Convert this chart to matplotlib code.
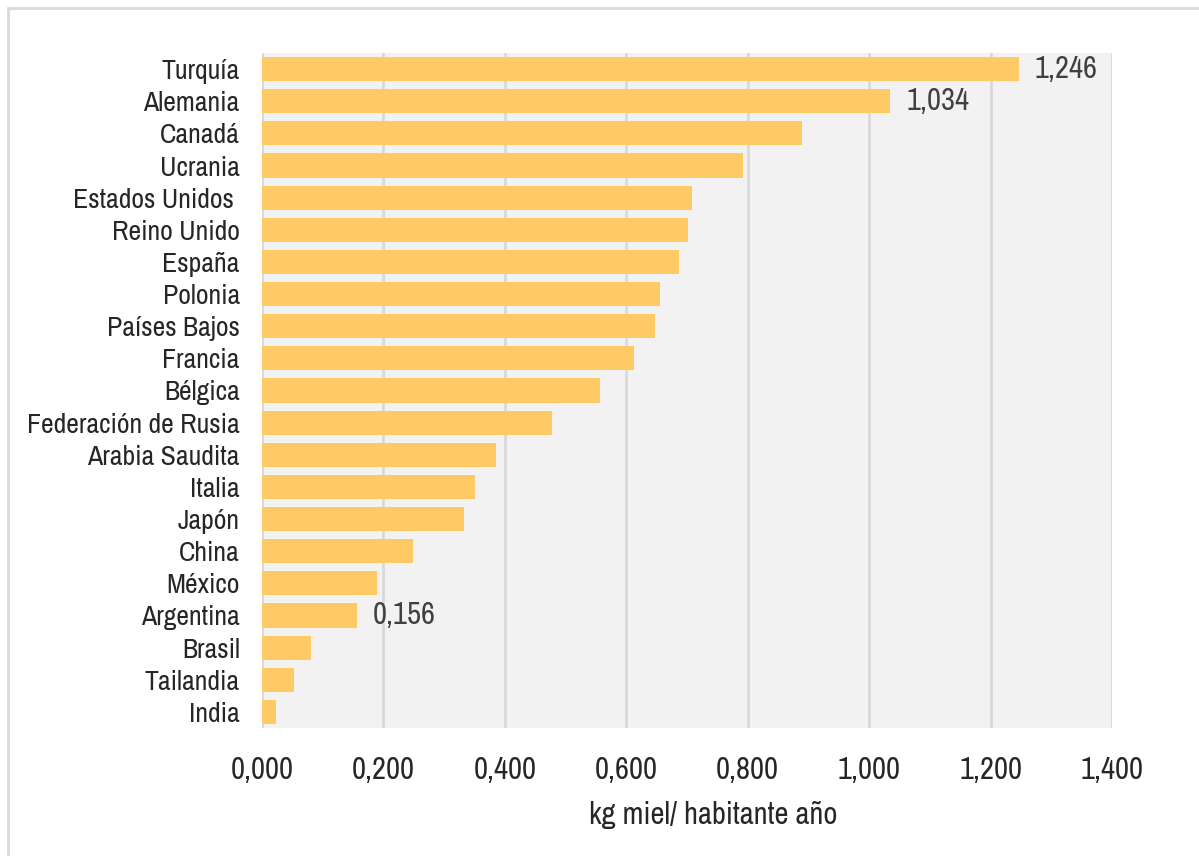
import matplotlib
matplotlib.use("Agg")
import matplotlib.pyplot as plt
from matplotlib.patches import Rectangle
from matplotlib import font_manager

paises = ["Turquía", "Alemania", "Canadá", "Ucrania", "Estados Unidos ", "Reino Unido",
          "España", "Polonia", "Países Bajos", "Francia", "Bélgica",
          "Federación de Rusia", "Arabia Saudita", "Italia", "Japón", "China",
          "México", "Argentina", "Brasil", "Tailandia", "India"]
consumo = [1.246, 1.034, 0.889, 0.792, 0.709, 0.701, 0.686, 0.655, 0.648, 0.612,
           0.557, 0.478, 0.386, 0.351, 0.333, 0.249, 0.190, 0.156, 0.081, 0.053, 0.023]
etiquetas = {"Turquía": "1,246", "Alemania": "1,034", "Argentina": "0,156"}
ticks = [0.0, 0.2, 0.4, 0.6, 0.8, 1.0, 1.2, 1.4]

# buscar una fuente estrecha parecida a Calibri
nombres = sorted({f.name for f in font_manager.fontManager.ttflist})
estrechas = [n for n in nombres if "Narrow" in n or "Condensed" in n]
if estrechas:
    fuente, tam, tam_num = estrechas[0], 20, 22
else:
    fuente, tam, tam_num = "Lato", 17, 18
plt.rcParams["font.family"] = [fuente, "DejaVu Sans"]

fig = plt.figure(figsize=(11.99, 8.56), dpi=100)
fig.patches.append(Rectangle((8 / 1199, -0.2), 1.2, 0.2 + (856 - 8) / 856,
                             transform=fig.transFigure, fill=False,
                             edgecolor="#D9D9D9", linewidth=2))
ax = fig.add_axes([262 / 1199, 1 - 728 / 856, (1112 - 262) / 1199, (728 - 53) / 856])
ax.set_facecolor("#F2F2F2")

y = list(range(len(paises)))
ax.barh(y, consumo, height=0.75, color="#FFCA65", zorder=3)
for i, (p, v) in enumerate(zip(paises, consumo)):
    if p in etiquetas:
        ax.text(v + 0.027, i, etiquetas[p], va="center", ha="left",
                fontsize=tam_num, color="#404040", zorder=4)

ax.set_ylim(len(paises) - 0.5, -0.5)
ax.set_xlim(0, 1.4)
ax.set_yticks(y)
ax.set_yticklabels(paises, fontsize=tam, color="#262626")
ax.set_xticks(ticks)
ax.set_xticklabels([f"{t:.3f}".replace(".", ",") for t in ticks], fontsize=tam_num, color="#262626")
ax.tick_params(length=0)
ax.tick_params(axis="x", pad=20)
ax.tick_params(axis="y", pad=16)
ax.grid(axis="x", color="#D9D9D9", linewidth=2, zorder=1)
for s in ax.spines.values():
    s.set_visible(False)
ax.set_xlabel("kg miel/ habitante año", fontsize=tam_num, color="#262626")
ax.xaxis.set_label_coords((713 - 262) / 850, -(815 - 728) / 675)
ax.xaxis.label.set_va("center")

fig.savefig("out.png", dpi=100, facecolor="white")
